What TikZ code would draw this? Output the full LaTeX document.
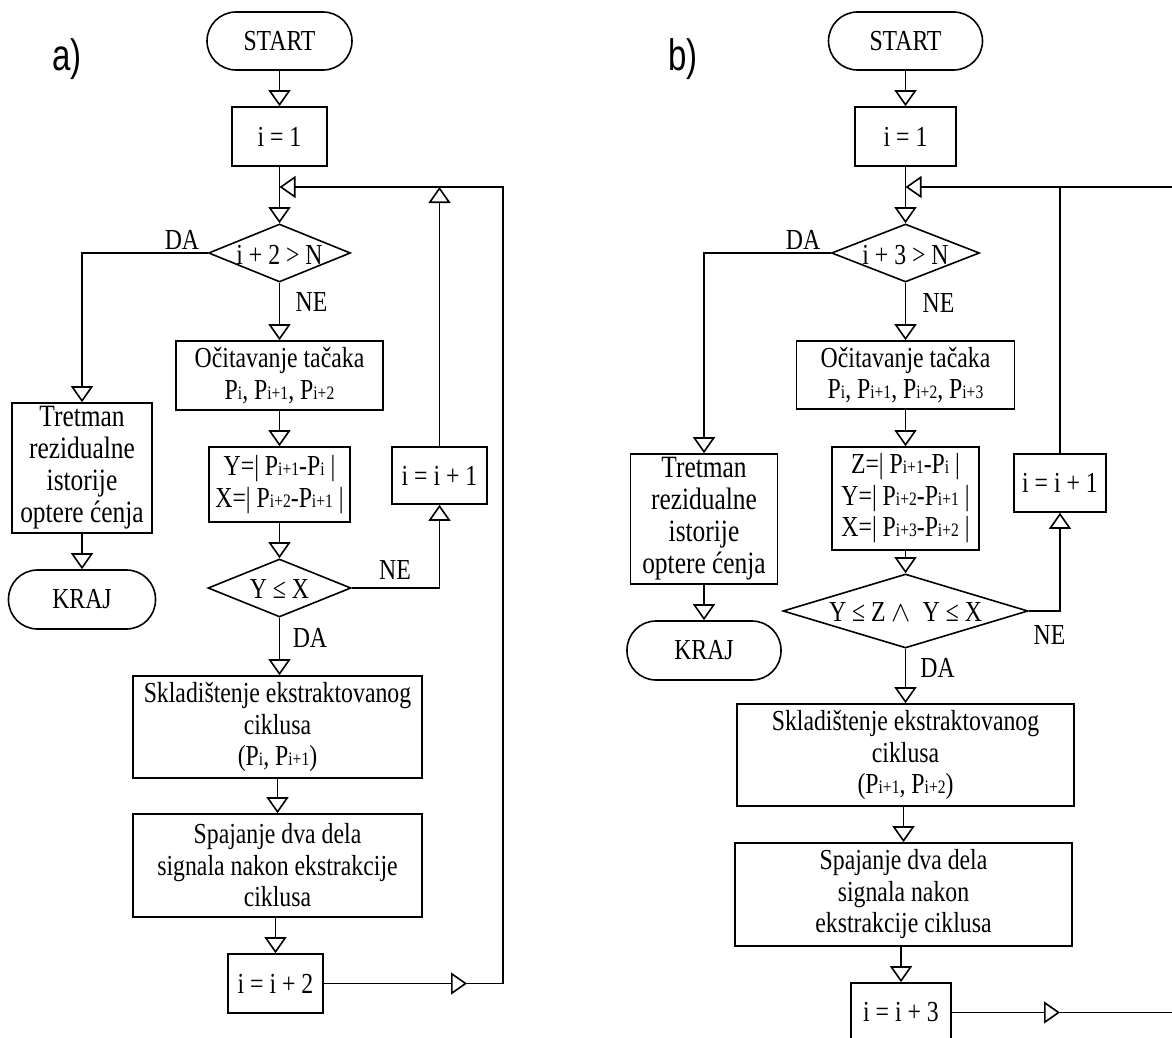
\documentclass[tikz,border=0pt]{standalone}
\usepackage{fontspec}
\setmainfont{Liberation Serif}[FakeStretch=0.82]
\newfontfamily\labfont{Liberation Sans}[FakeStretch=0.75]
\usetikzlibrary{arrows.meta,shapes.geometric}
\newcommand\mainsz{\fontsize{14.5}{15.75}\selectfont}
\newcommand\sbs[1]{{\fontsize{9.5}{9.5}\selectfont #1}}
\tikzset{
  ln/.style={line width=0.8pt},
  base/.style={draw, line width=0.8pt, align=center, inner sep=0pt, font=\mainsz},
  proc/.style={base, rectangle},
  term/.style={base, rectangle, rounded corners=14.5pt},
  dia/.style={draw, line width=0.8pt, diamond, inner sep=0pt},
  lbl/.style={font=\mainsz, inner sep=0pt},
  arr/.style={line width=0.8pt, -{Triangle[open, length=8pt, width=11pt]}},
}
\begin{document}
\begin{tikzpicture}[x=0.5pt, y=-0.5pt]
\useasboundingbox (0,0) rectangle (1172,1038);
\clip (0,0) rectangle (1172,1038);
\fill[white] (0,0) rectangle (1172,1038);

% ---------------- a) ----------------
\node[font=\labfont\fontsize{22}{22}\selectfont, inner sep=0pt] (la) at (67,59) {a)};
\node[term, minimum width=72.5pt, minimum height=29pt] (startA) at (279.5,41) {START};
\node[proc, minimum width=47.5pt, minimum height=29.5pt] (i1A) at (279.5,136.5) {i = 1};
\coordinate (jA) at (279.5,187);
\node[dia, minimum width=71pt, minimum height=29pt] (decA) at (279.5,253) {};
\node[lbl] (decAt) at (279.5,255) {i + 2 > N};
\node[proc, minimum width=103.5pt, minimum height=34.5pt] (ocA) at (279.5,375.5)
  {Očitavanje tačaka\\P\sbs{i}, P\sbs{i+1}, P\sbs{i+2}};
\node[proc, minimum width=70.5pt, minimum height=37.5pt] (yxA) at (279.5,484.5)
  {Y=| P\sbs{i+1}-P\sbs{i} |\\X=| P\sbs{i+2}-P\sbs{i+1} |};
\node[dia, minimum width=71.5pt, minimum height=29pt] (dec2A) at (279.5,588) {};
\node[lbl] (dec2At) at (279.5,589) {Y ≤ X};
\node[proc, minimum width=47.5pt, minimum height=28.5pt] (incA) at (439.5,475.5) {i = i + 1};
\node[proc, minimum width=70pt, minimum height=65pt, font=\fontsize{15.5}{16}\selectfont] (trA) at (82,468)
  {Tretman\\rezidualne\\istorije\\optere ćenja};
\node[term, minimum width=73.5pt, minimum height=29.5pt] (krajA) at (82,599.5) {KRAJ};
\node[proc, minimum width=144.5pt, minimum height=51pt] (skA) at (277.5,727)
  {Skladištenje ekstraktovanog\\ciklusa\\(P\sbs{i}, P\sbs{i+1})};
\node[proc, minimum width=144.5pt, minimum height=51.5pt] (spA) at (277.5,865.5)
  {Spajanje dva dela\\signala nakon ekstrakcije\\ciklusa};
\node[proc, minimum width=47.5pt, minimum height=29.5pt] (i2A) at (275.5,983.5) {i = i + 2};

\node[lbl] (daA1) at (182,239.5) {DA};
\node[lbl] (neA1) at (311.5,302.5) {NE};
\node[lbl] (neA2) at (395,570) {NE};
\node[lbl] (daA2) at (310,638) {DA};

\coordinate (uA) at (439.5,187);
\coordinate (mA) at (467,983.5);
\coordinate (cA) at (503,983.5);
\coordinate (tA) at (503,187);

\draw[arr] (startA) -- (i1A);
\draw[arr] (i1A) -- (decA);
\draw[arr] (decA.west) -| (trA.north);
\draw[arr] (trA) -- (krajA);
\draw[arr] (decA) -- (ocA);
\draw[arr] (ocA) -- (yxA);
\draw[arr] (yxA) -- (dec2A);
\draw[arr] (dec2A.east) -| (incA.south);
\draw[arr] (incA) -- (uA);
\draw[arr] (dec2A.south) -- (dec2A.south |- skA.north);
\draw[arr] (skA.south) -- (skA.south |- spA.north);
\draw[arr] (i2A.north |- spA.south) -- (i2A.north);
\draw[arr] (i2A.east) -- (mA);
\draw[arr] (mA) -- (cA) -- (tA) -- (jA);

% ---------------- b) ----------------
\node[font=\labfont\fontsize{22}{22}\selectfont, inner sep=0pt] (lb) at (683,59) {b)};
\node[term, minimum width=77pt, minimum height=29pt] (startB) at (905.5,41) {START};
\node[proc, minimum width=50.5pt, minimum height=29.5pt] (i1B) at (905.5,136.5) {i = 1};
\coordinate (jB) at (905.5,187);
\node[dia, minimum width=74pt, minimum height=29pt] (decB) at (905.5,253) {};
\node[lbl] (decBt) at (905.5,255) {i + 3 > N};
\node[proc, minimum width=109pt, minimum height=34pt] (ocB) at (905.5,375)
  {Očitavanje tačaka\\P\sbs{i}, P\sbs{i+1}, P\sbs{i+2}, P\sbs{i+3}};
\node[proc, minimum width=73.5pt, minimum height=51.5pt] (zyxB) at (905.5,498.5)
  {Z=| P\sbs{i+1}-P\sbs{i} |\\Y=| P\sbs{i+2}-P\sbs{i+1} |\\X=| P\sbs{i+3}-P\sbs{i+2} |};
\node[dia, minimum width=122.5pt, minimum height=37pt] (dec2B) at (905.5,611) {};
\node[lbl] (dec2Bt) at (905.5,612) {Y ≤ Z $\wedge$\ \ Y ≤ X};
\node[proc, minimum width=46pt, minimum height=29pt] (incB) at (1060,483) {i = i + 1};
\node[proc, minimum width=73.5pt, minimum height=65pt, font=\fontsize{15.5}{16}\selectfont] (trB) at (704,519)
  {Tretman\\rezidualne\\istorije\\optere ćenja};
\node[term, minimum width=77pt, minimum height=29.5pt] (krajB) at (704,650.5) {KRAJ};
\node[proc, minimum width=168.5pt, minimum height=51pt] (skB) at (905.5,755)
  {Skladištenje ekstraktovanog\\ciklusa\\(P\sbs{i+1}, P\sbs{i+2})};
\node[proc, minimum width=168.5pt, minimum height=51.5pt] (spB) at (903.5,894.5)
  {Spajanje dva dela\\signala nakon\\ekstrakcije ciklusa};
\node[proc, minimum width=50pt, minimum height=29.5pt] (i3B) at (901,1012.5) {i = i + 3};

\node[lbl] (daB1) at (803,239.5) {DA};
\node[lbl] (neB1) at (938.5,303) {NE};
\node[lbl] (neB2) at (1049.5,634.5) {NE};
\node[lbl] (daB2) at (937.5,667.5) {DA};

\coordinate (uB) at (1060,187);
\coordinate (eB) at (1185,187);
\coordinate (mB) at (1060,1012.5);
\coordinate (fB) at (1185,1012.5);

\draw[arr] (startB) -- (i1B);
\draw[arr] (i1B) -- (decB);
\draw[arr] (eB) -- (jB);
\draw[ln] (incB) -- (uB);
\draw[arr] (decB.west) -| (trB.north);
\draw[arr] (trB) -- (krajB);
\draw[arr] (decB) -- (ocB);
\draw[arr] (ocB) -- (zyxB);
\draw[arr] (zyxB) -- (dec2B);
\draw[arr] (dec2B.east) -| (incB.south);
\draw[arr] (dec2B) -- (skB);
\draw[arr] (spB.north |- skB.south) -- (spB.north);
\draw[arr] (i3B.north |- spB.south) -- (i3B.north);
\draw[arr] (i3B.east) -- (mB);
\draw[ln] (mB) -- (fB);
\end{tikzpicture}
\end{document}
